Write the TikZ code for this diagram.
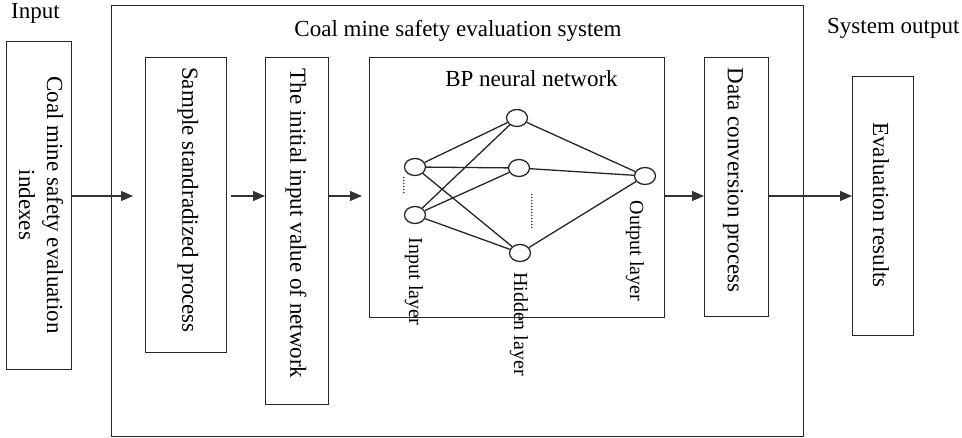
\documentclass[tikz,border=0pt]{standalone}
\usepackage{fontspec}
\setmainfont{Liberation Serif}
\usetikzlibrary{arrows.meta,shapes.geometric}

\begin{document}
\begin{tikzpicture}[x=1pt,y=-1pt,
  box/.style={draw=black!85,line width=1.3pt,inner sep=0pt},
  lbl/.style={font=\fontsize{23}{28}\selectfont,inner sep=0pt,align=center},
  small/.style={font=\fontsize{20}{24}\selectfont,inner sep=0pt},
  neuron/.style={draw=black!85,ellipse,line width=1.3pt,minimum width=21pt,minimum height=17pt,inner sep=0pt},
  link/.style={draw=black!85,line width=1.3pt},
  arr/.style={draw=black!80,line width=1.3pt,-{Triangle[length=12pt,width=10pt]}},
  dotsl/.style={font=\fontsize{12}{12}\selectfont,inner sep=0pt,rotate=-90}
]
\useasboundingbox (0,0) rectangle (962,438);

% frame of the evaluation system
\node[box,anchor=north west,minimum width=692pt,minimum height=431pt] (sys) at (111,5) {};

% processing blocks
\node[box,anchor=north west,minimum width=65pt,minimum height=328pt] (inbox) at (6,41) {};
\node[box,anchor=north west,minimum width=81pt,minimum height=295pt] (sample) at (145,57) {};
\node[box,anchor=north west,minimum width=63pt,minimum height=347pt] (init) at (265,57) {};
\node[box,anchor=north west,minimum width=295pt,minimum height=260pt] (bp) at (369,57) {};
\node[box,anchor=north west,minimum width=64pt,minimum height=259pt] (conv) at (704,57) {};
\node[box,anchor=north west,minimum width=61pt,minimum height=259pt] (res) at (852,76) {};

% headings
\node[lbl,anchor=base west] (tin) at (11,19) {Input};
\node[lbl,anchor=base west] (tout) at (827,34) {System output};
\node[lbl,anchor=base] (tsys) at (458,37) {Coal mine safety evaluation system};
\node[lbl,anchor=base] (tbp) at (531.5,87) {BP neural network};

% rotated block texts
\node[lbl,rotate=-90] (xin) at (41,205) {Coal mine safety evaluation\\indexes};
\node[lbl,rotate=-90] (xsample) at (188,200) {Sample standradized process};
\node[lbl,rotate=-90] (xinit) at (296,223.5) {The initial input value of network};
\node[lbl,rotate=-90] (xconv) at (733,180) {Data conversion process};
\node[lbl,rotate=-90] (xres) at (881,205) {Evaluation results};

% neurons
\node[neuron] (i1) at (415,167) {};
\node[neuron] (i2) at (415,215) {};
\node[neuron] (h1) at (517,118) {};
\node[neuron] (h2) at (519,168) {};
\node[neuron] (h3) at (520,253) {};
\node[neuron] (o1) at (645,176) {};

\foreach \a in {i1,i2}
  \foreach \b in {h1,h2,h3}
    \draw[link] (\a) -- (\b);
\foreach \b in {h1,h2,h3}
  \draw[link] (\b) -- (o1);

% ellipsis marks between neurons
\node[dotsl] (di) at (404,186) {......};
\node[dotsl] (dh) at (532,212) {............};

% layer names
\node[small,rotate=-90] (li) at (414,281.5) {Input layer};
\node[small,rotate=-90] (lh) at (519,324) {Hidden layer};
\node[small,rotate=-90] (lo) at (635,251) {Output layer};

% data flow
\coordinate (row) at (0,196);
\draw[arr,shorten >=12pt] (inbox.east |- row) -- (sample.west |- row);
\draw[arr,shorten <=4pt] (sample.east |- row) -- (init.west |- row);
\draw[arr,shorten >=7pt] (init.east |- row) -- (bp.west |- row);
\draw[arr] (bp.east |- row) -- (conv.west |- row);
\draw[arr] (conv.east |- row) -- (res.west |- row);
\end{tikzpicture}
\end{document}
